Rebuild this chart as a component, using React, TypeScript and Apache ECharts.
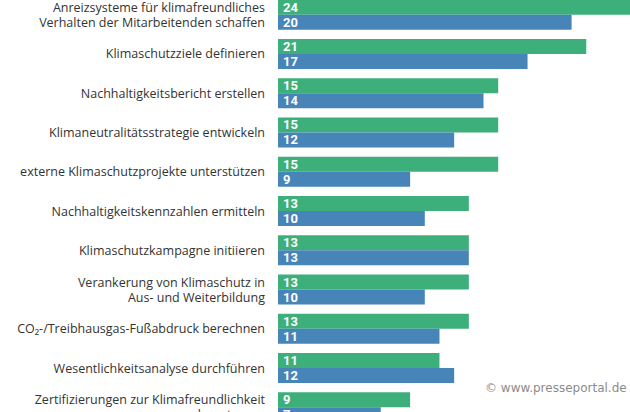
import React, { useEffect, useRef } from "react";
import * as echarts from "echarts";

const categories = [
  "Anreizsysteme für klimafreundliches\nVerhalten der Mitarbeitenden schaffen",
  "Klimaschutzziele definieren",
  "Nachhaltigkeitsbericht erstellen",
  "Klimaneutralitätsstrategie entwickeln",
  "externe Klimaschutzprojekte unterstützen",
  "Nachhaltigkeitskennzahlen ermitteln",
  "Klimaschutzkampagne initiieren",
  "Verankerung von Klimaschutz in\nAus- und Weiterbildung",
  "CO₂-/Treibhausgas-Fußabdruck berechnen",
  "Wesentlichkeitsanalyse durchführen",
  "Zertifizierungen zur Klimafreundlichkeit\nbeantragen",
];
const seriesNames = ["2023", "2022"];
const greenValues = [24, 21, 15, 15, 15, 13, 13, 13, 13, 11, 9];
const blueValues = [20, 17, 14, 12, 9, 10, 13, 10, 11, 12, 7];
const watermark = "© www.presseportal.de";

export default function App() {
  const ref = useRef<HTMLDivElement>(null);
  useEffect(() => {
    if (!ref.current) return;
    const chart = echarts.init(ref.current, undefined, { renderer: "svg" });
    const label = {
      show: true,
      position: "insideLeft",
      distance: 5,
      color: "#ffffff",
      fontFamily: "Roboto",
      fontWeight: "bold",
      fontSize: 13,
    };
    chart.setOption({
      animation: false,
      backgroundColor: "#ffffff",
      grid: { left: 278, right: 5, top: 0, bottom: 38, containLabel: false },
      xAxis: {
        type: "value",
        min: 0,
        max: 25,
        show: false,
        splitLine: { show: false },
      },
      yAxis: {
        type: "category",
        inverse: true,
        data: categories,
        axisLine: { show: false },
        axisTick: { show: false },
        axisLabel: {
          margin: 13,
          color: "#333333",
          fontFamily: "Open Sans",
          fontSize: 12.5,
          lineHeight: 15,
          align: "right",
        },
      },
      legend: {
        bottom: 0,
        right: 60,
        itemWidth: 10,
        itemHeight: 10,
        textStyle: { color: "#333", fontFamily: "Open Sans", fontSize: 12 },
        data: seriesNames,
      },
      graphic: [
        {
          type: "text",
          left: 485,
          top: 387,
          z: 100,
          style: {
            text: watermark,
            fill: "#8c8c8c",
            fontFamily: "DejaVu Sans",
            fontSize: 12,
          },
        },
      ],
      series: [
        {
          name: seriesNames[0],
          type: "bar",
          data: greenValues,
          barWidth: 15,
          barGap: "0%",
          itemStyle: { color: "#3daf7b" },
          label,
        },
        {
          name: seriesNames[1],
          type: "bar",
          data: blueValues,
          barWidth: 15,
          barGap: "0%",
          itemStyle: { color: "#4785b9" },
          label,
        },
      ],
    });
    return () => chart.dispose();
  }, []);
  return (
    <div
      ref={ref}
      style={{ position: "fixed", left: 0, top: -5, width: 650, height: 470 }}
    />
  );
}
